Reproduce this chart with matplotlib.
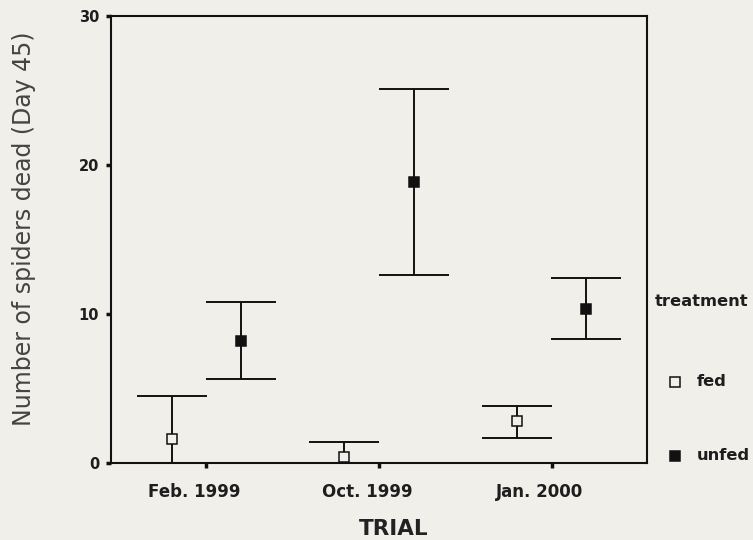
import numpy as np
import matplotlib
matplotlib.use("Agg")
import matplotlib.pyplot as plt
from matplotlib.lines import Line2D
from matplotlib.transforms import ScaledTranslation

# ---- data ----
trials = ["Feb. 1999", "Oct. 1999", "Jan. 2000"]
fed_mean = [1.6, 0.42, 2.8]
fed_lo = [-1.3, -0.6, 1.7]
fed_hi = [4.5, 1.43, 3.85]
unfed_mean = [8.15, 18.85, 10.3]
unfed_lo = [5.6, 12.6, 8.3]
unfed_hi = [10.8, 25.05, 12.4]

BG = "#f0efe9"
INK = "#111111"
plt.rcParams["font.family"] = ["DejaVu Sans"]

W, H = 753, 540
fig = plt.figure(figsize=(W / 100, H / 100), dpi=100, facecolor=BG)
ax = fig.add_axes([111 / W, 1 - 463 / H, (647 - 111) / W, (463 - 15.5) / H])
ax.set_facecolor(BG)

x = np.arange(1, len(trials) + 1)
dx = 0.2
for xs, m, lo, hi, fill in [(x - dx, fed_mean, fed_lo, fed_hi, BG),
                            (x + dx, unfed_mean, unfed_lo, unfed_hi, INK)]:
    m = np.array(m); lo = np.array(lo); hi = np.array(hi)
    ax.errorbar(xs, m, yerr=[m - lo, hi - m], fmt="none", ecolor=INK,
                elinewidth=1.4, capsize=25.2, capthick=1.4, zorder=2)
    ax.plot(xs, m, ls="none", marker="s", ms=7, mfc=fill, mec=INK,
            mew=1.1, zorder=3)

ax.set_xlim(0.45, 3.55)
ax.set_ylim(0, 30)
ax.set_yticks([0, 10, 20, 30])
ax.set_xticks(x)
ax.set_xticklabels(trials)
for s in ax.spines.values():
    s.set_linewidth(1.5)
    s.set_color(INK)
ax.tick_params(axis="both", length=3.5, width=2.5, color=INK, labelcolor="#1e1e1e")
ax.tick_params(axis="x", pad=11, labelsize=12)
ax.tick_params(axis="y", pad=5, labelsize=10.5)
# SPSS puts the category labels a little left of the tick marks
shift = ScaledTranslation(-12 / 100, 0, fig.dpi_scale_trans)
for lab in ax.get_xticklabels():
    lab.set_fontweight("bold")
    lab.set_transform(lab.get_transform() + shift)
for lab in ax.get_yticklabels():
    lab.set_fontweight("bold")

fig.text(24.5 / W, 1 - 229 / H, "Number of spiders dead (Day 45)", rotation=90,
         fontsize=17, color="#444444", ha="center", va="center")
fig.text(394 / W, 1 - 535 / H, "TRIAL", fontsize=15.5, fontweight="bold",
         color="#222222", ha="center", va="baseline")

# legend drawn by hand, to the right of the frame
fig.text(655 / W, 1 - 302 / H, "treatment", fontsize=11.8, fontweight="bold",
         color="#1e1e1e", va="center", ha="left")
for yy, lab, fill in [(381.5, "fed", BG), (456, "unfed", INK)]:
    fig.add_artist(Line2D([675 / W], [1 - yy / H], transform=fig.transFigure,
                          ls="none", marker="s", ms=7, mfc=fill, mec=INK, mew=1.1))
    fig.text(697 / W, 1 - yy / H, lab, fontsize=11.8, fontweight="bold",
             color="#1e1e1e", va="center", ha="left")

fig.savefig("out.png", dpi=100, facecolor=BG)
